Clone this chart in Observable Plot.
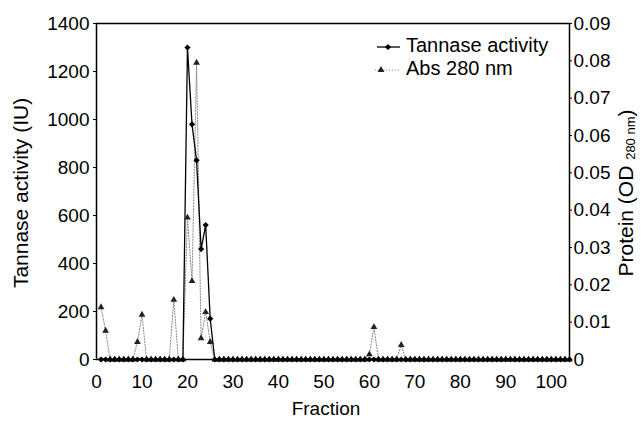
<!DOCTYPE html>
<html>
<head>
<meta charset="utf-8">
<script src="https://cdn.jsdelivr.net/npm/d3@7"></script>
<script src="https://cdn.jsdelivr.net/npm/@observablehq/plot@0.6"></script>
<style>
  html, body { margin: 0; padding: 0; background: #fff; }
  #chart { width: 644px; height: 425px; }
</style>
</head>
<body>
<div id="chart"></div>
<script>
// Fraction numbers
const fractions = d3.range(1, 105);

// Tannase activity (IU), fractions 1..104
const tannase = [
  0, 0, 0, 0, 0, 0, 0, 0, 0, 0,
  0, 0, 0, 0, 0, 0, 0, 0, 0, 1300,
  980, 830, 460, 560, 170, 0, 0, 0, 0, 0,
  0, 0, 0, 0, 0, 0, 0, 0, 0, 0,
  0, 0, 0, 0, 0, 0, 0, 0, 0, 0,
  0, 0, 0, 0, 0, 0, 0, 0, 0, 0,
  0, 0, 0, 0, 0, 0, 0, 0, 0, 0,
  0, 0, 0, 0, 0, 0, 0, 0, 0, 0,
  0, 0, 0, 0, 0, 0, 0, 0, 0, 0,
  0, 0, 0, 0, 0, 0, 0, 0, 0, 0,
  0, 0, 0, 0
];

// Protein, Abs 280 nm, fractions 1..104
const abs280 = [
  0.014, 0.0077, 0, 0, 0, 0, 0, 0, 0.0047, 0.012,
  0, 0, 0, 0, 0, 0, 0.016, 0, 0, 0.038,
  0.021, 0.0795, 0.0057, 0.0127, 0.0047, 0, 0, 0, 0, 0,
  0, 0, 0, 0, 0, 0, 0, 0, 0, 0,
  0, 0, 0, 0, 0, 0, 0, 0, 0, 0,
  0, 0, 0, 0, 0, 0, 0, 0, 0, 0.0014,
  0.0087, 0, 0, 0, 0, 0, 0.0039, 0, 0, 0,
  0, 0, 0, 0, 0, 0, 0, 0, 0, 0,
  0, 0, 0, 0, 0, 0, 0, 0, 0, 0,
  0, 0, 0, 0, 0, 0, 0, 0, 0, 0,
  0, 0, 0, 0
];

const xTicks = [0, 10, 20, 30, 40, 50, 60, 70, 80, 90, 100];
const yLeftTicks = [0, 200, 400, 600, 800, 1000, 1200, 1400];
const yRightTicks = [0, 0.01, 0.02, 0.03, 0.04, 0.05, 0.06, 0.07, 0.08, 0.09];

const seriesNames = ["Tannase activity", "Abs 280 nm"];
const leftTitle = "Tannase activity (IU)";
const xTitle = "Fraction";

const yMax = 1400, rMax = 0.09;
const toLeft = v => v * yMax / rMax;

const tData = fractions.map((f, i) => ({f, v: tannase[i]}));
const aData = fractions.map((f, i) => ({f, v: toLeft(abs280[i])}));

const FONT = "'Liberation Sans', Arial, Helvetica, sans-serif";
const R_DIA = 2.8, R_TRI = 2.5;

const plot = Plot.plot({
  width: 644,
  height: 425,
  marginLeft: 96,
  marginRight: 75,
  marginTop: 23,
  marginBottom: 66,
  style: {fontFamily: FONT, fontSize: "19px", color: "#000", background: "#fff"},
  x: {domain: [0, 104]},
  y: {domain: [0, yMax]},
  marks: [
    Plot.axisX({ticks: xTicks, tickSize: 0, tickPadding: 15, label: null, tickFormat: d => String(d)}),
    Plot.axisY({ticks: yLeftTicks, tickSize: 3, tickPadding: 4, label: null, tickFormat: d => String(d)}),
    Plot.axisY({anchor: "right", ticks: yRightTicks.map(toLeft), tickSize: 2, tickPadding: 2, label: null,
      tickFormat: (d, i) => String(yRightTicks[i])}),
    Plot.line(aData, {x: "f", y: "v", stroke: "#8a8a8a", strokeWidth: 1, strokeDasharray: "1.2,1.6"}),
    Plot.line(tData, {x: "f", y: "v", stroke: "#000", strokeWidth: 1.3}),
    Plot.dot(aData, {x: "f", y: "v", symbol: "triangle", r: R_TRI, fill: "#222", stroke: "none"}),
    Plot.dot(tData, {x: "f", y: "v", symbol: "diamond2", r: R_DIA, fill: "#000", stroke: "none"}),
    Plot.frame({stroke: "#000", strokeWidth: 1.5})
  ]
});

const svg = d3.select(plot);
const xs = plot.scale("x"), ys = plot.scale("y");
const cy = (ys.range[0] + ys.range[1]) / 2 + 2;

// axis titles
svg.append("text")
  .attr("transform", `translate(22,${cy}) rotate(-90)`)
  .attr("text-anchor", "middle").attr("dominant-baseline", "middle")
  .attr("font-family", FONT).attr("font-size", 21).attr("fill", "#000")
  .text(leftTitle);

const rt = svg.append("text")
  .attr("transform", `translate(627,${cy}) rotate(-90)`)
  .attr("text-anchor", "middle").attr("dominant-baseline", "middle")
  .attr("font-family", FONT).attr("font-size", 21).attr("fill", "#000");
rt.append("tspan").text("Protein (OD ");
rt.append("tspan").attr("font-size", 13).attr("dy", 5).text("280 nm");
rt.append("tspan").attr("dy", -5).text(")");

svg.append("text")
  .attr("x", 326).attr("y", 410)
  .attr("text-anchor", "middle").attr("dominant-baseline", "middle")
  .attr("font-family", FONT).attr("font-size", 19).attr("fill", "#000")
  .text(xTitle);

// legend
const lg = svg.append("g").attr("font-family", FONT).attr("font-size", 20).attr("text-anchor", "start");
const sym = (type, r) => d3.symbol(type, Math.PI * r * r)();
// Tannase
lg.append("line").attr("x1", 377).attr("x2", 400).attr("y1", 47).attr("y2", 47)
  .attr("stroke", "#000").attr("stroke-width", 1.3);
lg.append("path").attr("d", sym(d3.symbolDiamond2, R_DIA)).attr("transform", "translate(388,47)").attr("fill", "#000");
lg.append("text").attr("x", 406).attr("y", 47).attr("text-anchor", "start").attr("dominant-baseline", "middle").attr("fill", "#000").text(seriesNames[0]);
// Abs
lg.append("line").attr("x1", 375).attr("x2", 400).attr("y1", 70).attr("y2", 70)
  .attr("stroke", "#8a8a8a").attr("stroke-width", 1).attr("stroke-dasharray", "1.2,1.6");
lg.append("path").attr("d", sym(d3.symbolTriangle, R_TRI)).attr("transform", "translate(381,70)").attr("fill", "#222");
lg.append("text").attr("x", 406).attr("y", 70).attr("text-anchor", "start").attr("dominant-baseline", "middle").attr("fill", "#000").text(seriesNames[1]);

document.getElementById("chart").appendChild(plot);
</script>
</body>
</html>
